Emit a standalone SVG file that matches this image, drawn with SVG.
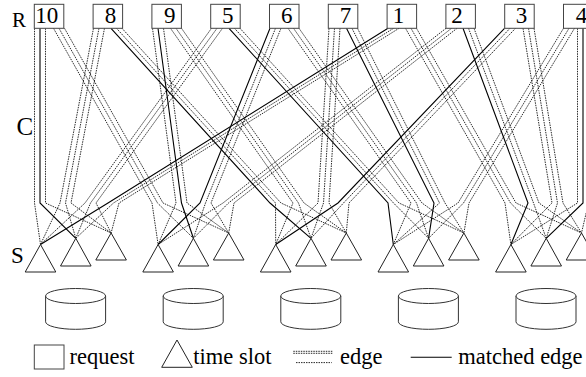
<svg xmlns="http://www.w3.org/2000/svg" width="586" height="377" viewBox="0 0 586 377">
<style>
text{font-family:"Liberation Serif","Times New Roman",serif;fill:#000}
.num{font-size:23px;text-anchor:middle}
.lbl{font-size:22.5px}
.box{fill:#fff;stroke:#444;stroke-width:1}
.tri{fill:#fff;stroke:#222;stroke-width:1}
.cyl{fill:#fff;stroke:#333;stroke-width:1}
.e{fill:none;stroke:#111;stroke-width:0.9;stroke-dasharray:1.5 1}
.m{fill:none;stroke:#000;stroke-width:1.1}
</style>
<rect width="586" height="377" fill="#fff"/>
<text x="12" y="27.3" style="font-size:21px">R</text>
<text x="16.5" y="134.5" style="font-size:25px">C</text>
<text x="11" y="263" style="font-size:23px">S</text>
<g id="edges">
<polyline class="e" points="34.5,28.3 34.5,203 40.5,244.5"/>
<polyline class="e" points="45.5,28.3 45.5,203 111.1,233"/>
<polyline class="e" points="53.5,28.3 152,203 158.1,244.5"/>
<polyline class="e" points="59,28.3 157.5,203 193.4,238.3"/>
<polyline class="e" points="64.5,28.3 163,203 228.7,233"/>
<polyline class="e" points="93.5,28.3 60,203 40.5,244.5"/>
<polyline class="e" points="99,28.3 65.5,203 75.8,238.3"/>
<polyline class="e" points="104.5,28.3 71,203 111.1,233"/>
<polyline class="e" points="116.5,28.3 275.5,203 275.7,244.5"/>
<polyline class="e" points="122,28.3 281,203 346.3,233"/>
<polyline class="e" points="152.5,28.3 176,203 158.1,244.5"/>
<polyline class="e" points="163.5,28.3 187,203 228.7,233"/>
<polyline class="e" points="170.5,28.3 293,203 275.7,244.5"/>
<polyline class="e" points="176,28.3 298.5,203 311,238.3"/>
<polyline class="e" points="181.5,28.3 304,203 346.3,233"/>
<polyline class="e" points="211.5,28.3 85,203 40.5,244.5"/>
<polyline class="e" points="217,28.3 90.5,203 75.8,238.3"/>
<polyline class="e" points="222.5,28.3 96,203 111.1,233"/>
<polyline class="e" points="234.5,28.3 393.5,203 428.6,238.3"/>
<polyline class="e" points="240,28.3 399,203 463.9,233"/>
<polyline class="e" points="275.5,28.3 205.5,203 193.4,238.3"/>
<polyline class="e" points="281,28.3 211,203 228.7,233"/>
<polyline class="e" points="288,28.3 411,203 393.3,244.5"/>
<polyline class="e" points="293.5,28.3 416.5,203 428.6,238.3"/>
<polyline class="e" points="299,28.3 422,203 463.9,233"/>
<polyline class="e" points="329,28.3 318,203 275.7,244.5"/>
<polyline class="e" points="334.5,28.3 323.5,203 311,238.3"/>
<polyline class="e" points="340,28.3 329,203 346.3,233"/>
<polyline class="e" points="352,28.3 439.5,203 393.3,244.5"/>
<polyline class="e" points="357.5,28.3 445,203 463.9,233"/>
<polyline class="e" points="393.5,28.3 113.5,203 75.8,238.3"/>
<polyline class="e" points="399,28.3 119,203 111.1,233"/>
<polyline class="e" points="405.5,28.3 505,203 510.9,244.5"/>
<polyline class="e" points="411,28.3 510.5,203 546.2,238.3"/>
<polyline class="e" points="416.5,28.3 516,203 581.5,233"/>
<polyline class="e" points="446,28.3 223,203 158.1,244.5"/>
<polyline class="e" points="451.5,28.3 228.5,203 193.4,238.3"/>
<polyline class="e" points="457,28.3 234,203 228.7,233"/>
<polyline class="e" points="468.5,28.3 533.5,203 546.2,238.3"/>
<polyline class="e" points="474,28.3 539,203 581.5,233"/>
<polyline class="e" points="510,28.3 343.5,203 311,238.3"/>
<polyline class="e" points="515.5,28.3 349,203 346.3,233"/>
<polyline class="e" points="523,28.3 552,203 510.9,244.5"/>
<polyline class="e" points="528.5,28.3 557.5,203 546.2,238.3"/>
<polyline class="e" points="534,28.3 563,203 581.5,233"/>
<polyline class="e" points="563.5,28.3 458,203 393.3,244.5"/>
<polyline class="e" points="569,28.3 463.5,203 428.6,238.3"/>
<polyline class="e" points="574.5,28.3 469,203 463.9,233"/>
<polyline class="e" points="577.5,28.3 577.5,203 510.9,244.5"/>
<polyline class="e" points="588.5,28.3 588.5,203 581.5,233"/>
<polyline class="m" points="40,28.3 40,203 75.8,238.3"/>
<polyline class="m" points="111,28.3 270,203 311,238.3"/>
<polyline class="m" points="158,28.3 181.5,203 193.4,238.3"/>
<polyline class="m" points="229,28.3 388,203 393.3,244.5"/>
<polyline class="m" points="270,28.3 200,203 158.1,244.5"/>
<polyline class="m" points="346.5,28.3 434,203 428.6,238.3"/>
<polyline class="m" points="388,28.3 108,203 40.5,244.5"/>
<polyline class="m" points="463,28.3 528,203 510.9,244.5"/>
<polyline class="m" points="504.5,28.3 338,203 275.7,244.5"/>
<polyline class="m" points="583,28.3 583,203 546.2,238.3"/>
</g>
<g id="req-10"><rect class="box" x="34.3" y="4.3" width="29.5" height="24"/><text class="num" x="46.7" y="23.4">10</text></g>
<g id="req-8"><rect class="box" x="93.1" y="4.3" width="29.5" height="24"/><text class="num" x="110.5" y="23.4">8</text></g>
<g id="req-9"><rect class="box" x="151.9" y="4.3" width="29.5" height="24"/><text class="num" x="169.7" y="23.4">9</text></g>
<g id="req-5"><rect class="box" x="210.7" y="4.3" width="29.5" height="24"/><text class="num" x="227.7" y="23.4">5</text></g>
<g id="req-6"><rect class="box" x="269.5" y="4.3" width="29.5" height="24"/><text class="num" x="286.7" y="23.4">6</text></g>
<g id="req-7"><rect class="box" x="328.3" y="4.3" width="29.5" height="24"/><text class="num" x="345.5" y="23.4">7</text></g>
<g id="req-1"><rect class="box" x="387.1" y="4.3" width="29.5" height="24"/><text class="num" x="398.5" y="23.4">1</text></g>
<g id="req-2"><rect class="box" x="445.9" y="4.3" width="29.5" height="24"/><text class="num" x="457" y="23.4">2</text></g>
<g id="req-3"><rect class="box" x="504.7" y="4.3" width="29.5" height="24"/><text class="num" x="521.5" y="23.4">3</text></g>
<g id="req-4"><rect class="box" x="563.5" y="4.3" width="29.5" height="24"/><text class="num" x="581.5" y="23.4">4</text></g>
<g id="slot-1-1"><polygon class="tri" points="40.5,244.5 25.2,272 55.8,272"/></g>
<g id="slot-1-2"><polygon class="tri" points="75.8,238.3 60.5,266 91.1,266"/></g>
<g id="slot-1-3"><polygon class="tri" points="111.1,233 95.8,260 126.4,260"/></g>
<g id="slot-2-1"><polygon class="tri" points="158.1,244.5 142.8,272 173.4,272"/></g>
<g id="slot-2-2"><polygon class="tri" points="193.4,238.3 178.1,266 208.7,266"/></g>
<g id="slot-2-3"><polygon class="tri" points="228.7,233 213.4,260 244,260"/></g>
<g id="slot-3-1"><polygon class="tri" points="275.7,244.5 260.4,272 291,272"/></g>
<g id="slot-3-2"><polygon class="tri" points="311,238.3 295.7,266 326.3,266"/></g>
<g id="slot-3-3"><polygon class="tri" points="346.3,233 331,260 361.6,260"/></g>
<g id="slot-4-1"><polygon class="tri" points="393.3,244.5 378,272 408.6,272"/></g>
<g id="slot-4-2"><polygon class="tri" points="428.6,238.3 413.3,266 443.9,266"/></g>
<g id="slot-4-3"><polygon class="tri" points="463.9,233 448.6,260 479.2,260"/></g>
<g id="slot-5-1"><polygon class="tri" points="510.9,244.5 495.6,272 526.2,272"/></g>
<g id="slot-5-2"><polygon class="tri" points="546.2,238.3 530.9,266 561.5,266"/></g>
<g id="slot-5-3"><polygon class="tri" points="581.5,233 566.2,260 596.8,260"/></g>
<defs>
<g id="cylinder">
<path class="cyl" d="M-30,296 V321.8 A30,7.5 0 0 0 30,321.8 V296"/>
<ellipse class="cyl" cx="0" cy="296" rx="30" ry="7.5"/>
</g>
</defs>
<g id="disk-1"><use href="#cylinder" x="75.6"/></g>
<g id="disk-2"><use href="#cylinder" x="193.2"/></g>
<g id="disk-3"><use href="#cylinder" x="310.8"/></g>
<g id="disk-4"><use href="#cylinder" x="428.4"/></g>
<g id="disk-5"><use href="#cylinder" x="546"/></g>
<g id="legend">
<rect class="box" x="34.3" y="345" width="29.7" height="24"/>
<text class="lbl" x="69.5" y="363.5">request</text>
<polygon class="tri" points="177,340 161.7,367.3 192.3,367.3"/>
<text class="lbl" x="193.3" y="363.5">time slot</text>
<line class="e" x1="293.3" y1="351.3" x2="333.3" y2="351.3"/>
<line class="e" x1="293.3" y1="353.3" x2="333.3" y2="353.3"/>
<line class="e" x1="296" y1="362.6" x2="331.7" y2="362.6"/>
<text class="lbl" x="340" y="363.5">edge</text>
<line class="m" x1="410.7" y1="357.3" x2="451.7" y2="357.3"/>
<text class="lbl" x="458.3" y="363.5">matched edge</text>
</g>
</svg>
